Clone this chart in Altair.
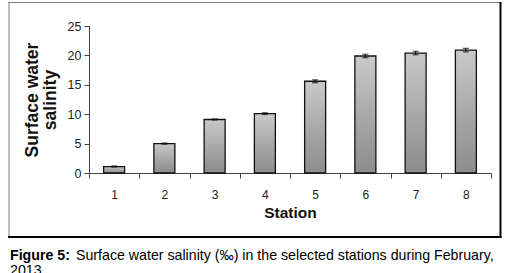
import altair as alt
import pandas as pd

stations = ["1", "2", "3", "4", "5", "6", "7", "8"]
salinity = [1.1, 5.0, 9.1, 10.1, 15.6, 19.9, 20.4, 20.9]
errors = [0.1, 0.1, 0.1, 0.15, 0.25, 0.3, 0.3, 0.3]
y_ticks = [0, 5, 10, 15, 20, 25]

df = pd.DataFrame({"station": stations, "sal": salinity, "err": errors})
df["lo"] = df["sal"] - df["err"]
df["hi"] = df["sal"] + df["err"]

SANS = "Liberation Sans, Arial, sans-serif"
yscale = alt.Scale(domain=[0, 25], nice=False)
xscale = alt.Scale(paddingInner=0, paddingOuter=0)

xaxis = alt.Axis(title="Station", labelAngle=0, tickBand="extent",
                 labelFont=SANS, labelFontSize=12, labelColor="#222",
                 labelPadding=11, tickSize=5, tickColor="#444",
                 domainColor="#444", titleFont=SANS, titleFontSize=15.5,
                 titleFontWeight="bold", titleColor="#111", titlePadding=5)
yaxis = alt.Axis(title=["Surface water", "salinity"], values=y_ticks,
                 grid=False, labelOverlap=False, labelFont=SANS,
                 labelFontSize=12.5, labelColor="#222", tickSize=5, tickColor="#444",
                 domainColor="#444", labelPadding=3, titleFont=SANS,
                 titleFontSize=17.5, titleFontWeight="bold", titleColor="#111",
                 titlePadding=8, titleLineHeight=18)

xenc = alt.X("station:N", sort=stations, scale=xscale, axis=xaxis)

grad = alt.Gradient(gradient="linear",
                    stops=[alt.GradientStop(color="#8c8c8c", offset=0),
                           alt.GradientStop(color="#a6a6a6", offset=0.45),
                           alt.GradientStop(color="#c9c9c9", offset=1)],
                    x1=0, y1=1, x2=0, y2=0)

bars = alt.Chart(df).mark_bar(size=21, fill=grad, stroke="#111", strokeWidth=1.3).encode(
    x=xenc, y=alt.Y("sal:Q", scale=yscale, axis=yaxis))

err_rule = alt.Chart(df).mark_rule(color="#111", strokeWidth=1.2).encode(
    x=xenc, y=alt.Y("lo:Q", scale=yscale, axis=yaxis), y2="hi:Q")
cap_hi = alt.Chart(df).mark_tick(color="#111", size=6, thickness=1.2, orient="horizontal").encode(
    x=xenc, y=alt.Y("hi:Q", scale=yscale, axis=yaxis))
cap_lo = alt.Chart(df).mark_tick(color="#111", size=6, thickness=1.2, orient="horizontal").encode(
    x=xenc, y=alt.Y("lo:Q", scale=yscale, axis=yaxis))

one = pd.DataFrame({"a": [0]})
left = alt.Chart(one).mark_rule(color="#c0c0c0", strokeWidth=2).encode(
    x=alt.value(-80), y=alt.value(-24), y2=alt.value(212))
top = alt.Chart(one).mark_rule(color="#808080", strokeWidth=1).encode(
    x=alt.value(-81), x2=alt.value(412), y=alt.value(-23.5))
right = alt.Chart(one).mark_rule(color="#000", strokeWidth=2).encode(
    x=alt.value(411.5), y=alt.value(-24), y2=alt.value(212))
bottom = alt.Chart(one).mark_rule(color="#000", strokeWidth=2).encode(
    x=alt.value(-81), x2=alt.value(412.5), y=alt.value(211))

cap1 = alt.Chart(one).mark_text(text="Figure 5:", font=SANS, fontSize=14.2, fontWeight="bold",
                                align="left", baseline="alphabetic", color="#000").encode(
    x=alt.value(-79), y=alt.value(233.5))
cap2 = alt.Chart(one).mark_text(text="Surface water salinity (‰) in the selected stations during February,",
                                font=SANS, fontSize=14.2, align="left", baseline="alphabetic",
                                color="#000").encode(
    x=alt.value(-13), y=alt.value(233.5))
cap3 = alt.Chart(one).mark_text(text="2013", font=SANS, fontSize=14.2, align="left",
                                baseline="alphabetic", color="#000").encode(
    x=alt.value(-79), y=alt.value(249))

chart = alt.layer(bars, err_rule, cap_hi, cap_lo, left, top, right, bottom, cap1, cap2, cap3).properties(
    width=402, height=147,
    padding={"left": 89, "top": 26, "right": 16, "bottom": 100},
    autosize=alt.AutoSizeParams(type="none"),
    background="white",
).configure_view(stroke=None)

chart.save("out.html", embed_options={"renderer": "svg", "actions": False})
